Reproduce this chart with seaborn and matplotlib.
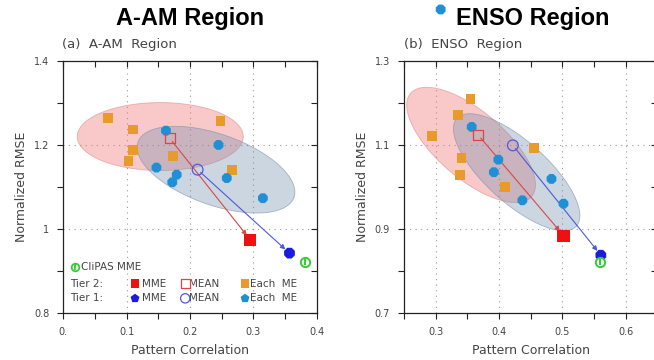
import numpy as np
import pandas as pd
import matplotlib
matplotlib.use("Agg")
import matplotlib.pyplot as plt
import seaborn as sns

# (a) A-AM region
aam_t2_each_x = [0.071, 0.110, 0.110, 0.103, 0.173, 0.248, 0.266]
aam_t2_each_y = [1.265, 1.237, 1.187, 1.162, 1.173, 1.257, 1.141]
aam_t1_each_x = [0.162, 0.147, 0.179, 0.172, 0.245, 0.258, 0.315]
aam_t1_each_y = [1.234, 1.146, 1.129, 1.111, 1.200, 1.121, 1.073]
aam_t2_mean = [0.168, 1.216]
aam_t1_mean = [0.212, 1.141]
aam_t2_mme = [0.295, 0.974]
aam_t1_mme = [0.357, 0.942]
aam_clipas = [0.381, 0.920]
# spread ellipses: centre, semi-axis vectors
aam_t2_ell = [[0.153, 1.220], [0.131, 0.0], [0.0, 0.081]]
aam_t1_ell = [[0.241, 1.141], [0.123, -0.0665], [-0.0194, -0.0792]]

# (b) ENSO region
enso_t2_each_x = [0.355, 0.335, 0.294, 0.341, 0.338, 0.409, 0.455]
enso_t2_each_y = [1.210, 1.172, 1.121, 1.068, 1.029, 1.000, 1.092]
enso_t1_each_x = [0.357, 0.399, 0.392, 0.437, 0.483, 0.502, 0.308]
enso_t1_each_y = [1.143, 1.065, 1.035, 0.968, 1.019, 0.960, 1.423]
enso_t2_mean = [0.367, 1.124]
enso_t1_mean = [0.422, 1.099]
enso_t2_mme = [0.502, 0.884]
enso_t1_mme = [0.561, 0.837]
enso_clipas = [0.559, 0.821]
enso_t2_ell = [[0.356, 1.100], [0.0954, -0.1235], [-0.0352, -0.0604]]
enso_t1_ell = [[0.428, 1.035], [0.0943, -0.1287], [-0.0330, -0.0539]]

aam_xticks = [0.0, 0.05, 0.1, 0.15, 0.2, 0.25, 0.3, 0.35, 0.4]
aam_xlabels = ['0.', '', '0.1', '', '0.2', '', '0.3', '', '0.4']
aam_yticks = [0.8, 0.9, 1.0, 1.1, 1.2, 1.3, 1.4]
aam_ylabels = ['0.8', '', '1', '', '1.2', '', '1.4']
enso_xticks = [0.25, 0.3, 0.35, 0.4, 0.45, 0.5, 0.55, 0.6, 0.65]
enso_xlabels = ['', '0.3', '', '0.4', '', '0.5', '', '0.6', '']
enso_yticks = [0.7, 0.8, 0.9, 1.0, 1.1, 1.2, 1.3]
enso_ylabels = ['0.7', '', '0.9', '', '1.1', '', '1.3']

ORANGE = '#e89a2a'
LBLUE = '#1f8fd6'
RED = '#ee1111'
DBLUE = '#1a1ae0'
GREEN = '#33cc33'
TXT = '#444444'

sns.set_theme(style='white')
plt.rcParams['font.family'] = ['DejaVu Sans']

fig = plt.figure(figsize=(6.54, 3.6), dpi=100)
ax1 = fig.add_axes([0.0968, 0.1314, 0.3875, 0.699])
ax2 = fig.add_axes([0.6177, 0.1314, 0.3872, 0.699])


def ellipse(ax, ell, fc, ec, alpha):
    t = np.linspace(0, 2 * np.pi, 200)
    c, u, v = np.array(ell[0]), np.array(ell[1]), np.array(ell[2])
    pts = c[None, :] + np.cos(t)[:, None] * u + np.sin(t)[:, None] * v
    ax.fill(pts[:, 0], pts[:, 1], facecolor=fc, alpha=alpha, edgecolor='none', zorder=1)
    ax.plot(pts[:, 0], pts[:, 1], color=ec, lw=0.6, alpha=0.6, zorder=1)


def panel(ax, d, xt, xl, yt, yl):
    ax.set_xlim(xt[0], xt[-1])
    ax.set_ylim(yt[0], yt[-1])
    for x, lab in zip(xt, xl):
        if lab and x not in (xt[0], xt[-1]):
            ax.axvline(x, color='#999999', lw=0.8, ls=(0, (1, 4)), zorder=0)
    for y, lab in zip(yt, yl):
        if lab and y not in (yt[0], yt[-1]):
            ax.axhline(y, color='#999999', lw=0.8, ls=(0, (1, 4)), zorder=0)

    ellipse(ax, d['t2_ell'], '#f07878', '#e08888', 0.40)
    ellipse(ax, d['t1_ell'], '#6e8caa', '#7890a8', 0.35)

    ax.annotate('', xy=d['t2_mme'], xytext=d['t2_mean'],
                arrowprops=dict(arrowstyle='-|>', color='#d84848', lw=0.8,
                                mutation_scale=7, shrinkA=3, shrinkB=4), zorder=3)
    ax.annotate('', xy=d['t1_mme'], xytext=d['t1_mean'],
                arrowprops=dict(arrowstyle='-|>', color='#4a5ad8', lw=0.8,
                                mutation_scale=7, shrinkA=3, shrinkB=4), zorder=3)

    t2 = pd.DataFrame({'x': d['t2_x'], 'y': d['t2_y']})
    t1 = pd.DataFrame({'x': d['t1_x'], 'y': d['t1_y']})
    sns.scatterplot(data=t2, x='x', y='y', ax=ax, marker='s', s=50, color=ORANGE,
                    edgecolor='none', zorder=4)
    sns.scatterplot(data=t1, x='x', y='y', ax=ax, marker='8', s=58, color=LBLUE,
                    edgecolor='none', zorder=4, clip_on=False)
    ax.scatter(*d['t2_mean'], marker='s', s=55, facecolor='none', edgecolor='#dd4444', lw=0.9, zorder=5)
    ax.scatter(*d['t1_mean'], marker='o', s=60, facecolor='none', edgecolor='#5555dd', lw=0.9, zorder=5)
    ax.scatter(*d['t2_mme'], marker='s', s=75, color=RED, edgecolor='none', zorder=5)
    ax.scatter(*d['t1_mme'], marker='8', s=70, color=DBLUE, edgecolor='none', zorder=5)
    ax.scatter(*d['clipas'], marker='o', s=45, facecolor='white', edgecolor=GREEN, lw=1.4, zorder=6,
               clip_on=False)
    ax.scatter(*d['clipas'], marker='|', s=20, color=GREEN, lw=1.4, zorder=7, clip_on=False)

    ax.set_xticks(xt)
    ax.set_xticklabels(xl)
    ax.set_yticks(yt)
    ax.set_yticklabels(yl)
    ax.tick_params(direction='out', length=4, width=0.8, colors='#222222', labelsize=7,
                   labelcolor=TXT, bottom=True, left=True, pad=6)
    for s in ax.spines.values():
        s.set_color('#222222')
        s.set_linewidth(0.9)
    top = ax.secondary_xaxis('top')
    top.set_xticks(xt)
    top.tick_params(direction='in', length=4, width=0.8, labeltop=False, colors='#222222')
    top.spines['top'].set_visible(False)
    right = ax.secondary_yaxis('right')
    right.set_yticks(yt)
    right.tick_params(direction='in', length=4, width=0.8, labelright=False, colors='#222222')
    right.spines['right'].set_visible(False)
    ax.set_xlabel('Pattern Correlation', fontsize=9, color=TXT, labelpad=5)
    ax.set_ylabel('Normalized RMSE', fontsize=9, color=TXT, labelpad=4)


panel(ax1, dict(t2_x=aam_t2_each_x, t2_y=aam_t2_each_y, t1_x=aam_t1_each_x, t1_y=aam_t1_each_y,
                t2_mean=aam_t2_mean, t1_mean=aam_t1_mean, t2_mme=aam_t2_mme, t1_mme=aam_t1_mme,
                clipas=aam_clipas, t2_ell=aam_t2_ell, t1_ell=aam_t1_ell),
      aam_xticks, aam_xlabels, aam_yticks, aam_ylabels)
panel(ax2, dict(t2_x=enso_t2_each_x, t2_y=enso_t2_each_y, t1_x=enso_t1_each_x, t1_y=enso_t1_each_y,
                t2_mean=enso_t2_mean, t1_mean=enso_t1_mean, t2_mme=enso_t2_mme, t1_mme=enso_t1_mme,
                clipas=enso_clipas, t2_ell=enso_t2_ell, t1_ell=enso_t1_ell),
      enso_xticks, enso_xlabels, enso_yticks, enso_ylabels)

# legend drawn inside panel (a)
tr = ax1.transAxes
kw = dict(transform=tr, clip_on=False, zorder=8)
ax1.scatter(0.046, 0.183, marker='o', s=30, facecolor='white', edgecolor=GREEN, lw=1.3, **kw)
ax1.scatter(0.046, 0.183, marker='|', s=14, color=GREEN, lw=1.3, **kw)
ax1.text(0.07, 0.183, 'CliPAS MME', transform=tr, fontsize=7.5, color=TXT, va='center')
for ty, lab in [(0.116, 'Tier 2:'), (0.057, 'Tier 1:')]:
    ax1.text(0.026, ty, lab, transform=tr, fontsize=7.5, color=TXT, va='center')
ax1.scatter(0.283, 0.116, marker='s', s=40, color=RED, edgecolor='none', **kw)
ax1.scatter(0.481, 0.116, marker='s', s=40, facecolor='none', edgecolor='#dd4444', lw=0.9, **kw)
ax1.scatter(0.717, 0.116, marker='s', s=40, color=ORANGE, edgecolor='none', **kw)
ax1.scatter(0.283, 0.057, marker='p', s=45, color=DBLUE, edgecolor='none', **kw)
ax1.scatter(0.481, 0.057, marker='o', s=45, facecolor='none', edgecolor='#5555dd', lw=0.9, **kw)
ax1.scatter(0.717, 0.057, marker='p', s=45, color=LBLUE, edgecolor='none', **kw)
for ty in (0.116, 0.057):
    ax1.text(0.309, ty, 'MME', transform=tr, fontsize=7.5, color=TXT, va='center')
    ax1.text(0.496, ty, 'MEAN', transform=tr, fontsize=7.5, color=TXT, va='center')
    ax1.text(0.737, ty, 'Each  ME', transform=tr, fontsize=7.5, color=TXT, va='center')

# titles
fig.text(0.291, 0.948, 'A-AM Region', ha='center', va='center', fontsize=17,
         fontweight='bold', family='Liberation Sans', color='black')
fig.text(0.815, 0.948, 'ENSO Region', ha='center', va='center', fontsize=17,
         fontweight='bold', family='Liberation Sans', color='black')
fig.text(0.095, 0.877, '(a)  A-AM  Region', fontsize=9.5, color=TXT, va='center')
fig.text(0.617, 0.877, '(b)  ENSO  Region', fontsize=9.5, color=TXT, va='center')

fig.savefig('out.png', dpi=100)
